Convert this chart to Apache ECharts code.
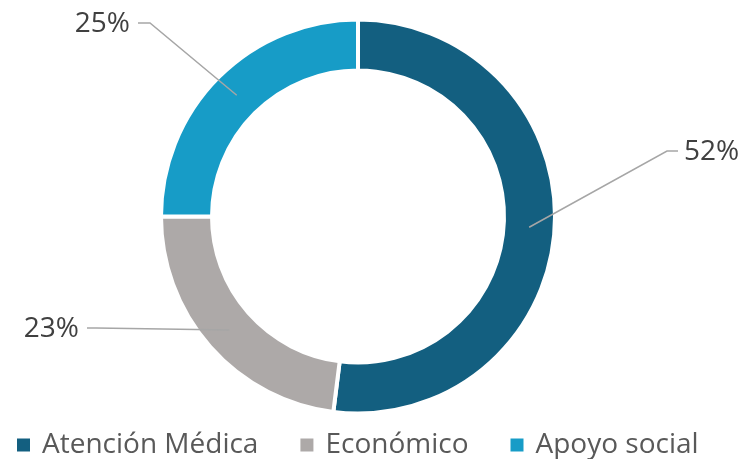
<!DOCTYPE html>
<html>
<head>
<meta charset="utf-8">
<script src="https://cdn.jsdelivr.net/npm/echarts@6/dist/echarts.min.js"></script>
<style>
  html, body { margin: 0; padding: 0; background: #ffffff; }
  #chart { width: 740px; height: 459px; }
</style>
</head>
<body>
<div id="chart"></div>
<script>
// Categories and their shares (percent)
const categories = ['Atención Médica', 'Económico', 'Apoyo social'];
const shares = [52, 23, 25];
const colors = ['#135F80', '#ADA9A8', '#179CC7'];

// Ring geometry (pixels)
const CX = 358, CY = 216.5;
const R_OUT = 197, R_IN = 146;
const R_ANCHOR = 171.5; // leader lines start mid-ring

// Leader-line bend points and label spots, per slice
const labelSpots = [
  { bend: [667, 151], end: [678, 151], text: [684, 152], align: 'left' },
  { bend: [96, 328], end: [87, 328], text: [79, 329], align: 'right' },
  { bend: [150, 23], end: [138, 23], text: [130, 24], align: 'right' }
];

const total = shares.reduce((a, b) => a + b, 0);
// Mid-angle of each slice, clockwise from 12 o'clock
const midAngles = [];
let acc = 0;
shares.forEach(v => {
  midAngles.push(((acc + v / 2) / total) * Math.PI * 2);
  acc += v;
});

const sliceData = categories.map((name, i) => ({
  name: name,
  value: shares[i],
  itemStyle: { color: colors[i] }
}));

const chart = echarts.init(document.getElementById('chart'), null, { renderer: 'canvas' });

chart.setOption({
  animation: false,
  textStyle: { fontFamily: '"Open Sans", sans-serif' },
  legend: {
    data: categories,
    left: 12,
    top: 426,
    icon: 'rect',
    itemWidth: 13,
    itemHeight: 13,
    itemGap: 42,
    selectedMode: false,
    itemStyle: { borderWidth: 0 },
    textStyle: {
      fontFamily: '"Open Sans", sans-serif',
      fontSize: 28,
      color: '#595959',
      padding: [0, 0, 0, 7]
    }
  },
  series: [
    {
      // the ring itself
      type: 'pie',
      z: 1,
      center: [CX, CY],
      radius: [R_IN, R_OUT],
      startAngle: 90,
      clockwise: true,
      emphasis: { disabled: true },
      itemStyle: { borderColor: '#ffffff', borderWidth: 4 },
      label: { show: false },
      labelLine: { show: false },
      data: sliceData
    },
    {
      // transparent overlay carrying the percentage labels and leader lines
      type: 'pie',
      z: 3,
      center: [CX, CY],
      radius: [R_IN, R_OUT],
      startAngle: 90,
      clockwise: true,
      avoidLabelOverlap: false,
      legendHoverLink: false,
      emphasis: { disabled: true },
      tooltip: { show: false },
      itemStyle: { color: 'rgba(0,0,0,0)', borderWidth: 0 },
      label: {
        show: true,
        position: 'outside',
        formatter: p => p.value + '%',
        fontFamily: '"Open Sans", sans-serif',
        fontSize: 28,
        color: '#404040'
      },
      labelLine: {
        show: true,
        length: 20,
        length2: 10,
        lineStyle: { color: '#A6A6A6', width: 1.5 }
      },
      labelLayout: function (params) {
        const i = params.dataIndex;
        const s = labelSpots[i];
        const a = midAngles[i];
        const anchor = [CX + R_ANCHOR * Math.sin(a), CY - R_ANCHOR * Math.cos(a)];
        return {
          x: s.text[0],
          y: s.text[1],
          align: s.align,
          verticalAlign: 'middle',
          labelLinePoints: [anchor, s.bend, s.end]
        };
      },
      data: categories.map((name, i) => ({ name: name, value: shares[i] }))
    }
  ]
});
</script>
</body>
</html>
